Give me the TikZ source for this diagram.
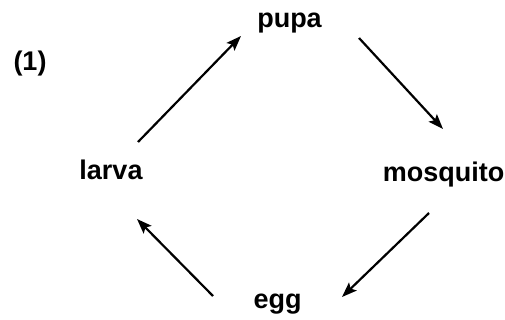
\documentclass[tikz,border=0pt]{standalone}
\usepackage{fontspec}
\setmainfont{Liberation Sans}
\usetikzlibrary{arrows.meta}
\begin{document}
\begin{tikzpicture}[x=1pt,y=-1pt,
  lbl/.style={anchor=base,inner sep=0pt,font=\fontsize{27}{32}\selectfont\bfseries},
  arr/.style={line width=2.2pt,-{Stealth[length=15pt,width=11pt,inset=3pt]}}]
\useasboundingbox (0,0) rectangle (505,320);
\node[lbl] (num) at (30,71) {(1)};
\node[lbl] (pupa) at (289.5,27.5) {pupa};
\node[lbl] (mosq) at (443.5,182) {mosquito};
\node[lbl] (egg) at (277.5,308) {egg};
\node[lbl] (larva) at (111,180) {larva};
\coordinate (a1s) at (138,142); \coordinate (a1e) at (241,36);
\coordinate (a2s) at (359,38);  \coordinate (a2e) at (443,129);
\coordinate (a3s) at (429,213); \coordinate (a3e) at (342,297);
\coordinate (a4s) at (213,296); \coordinate (a4e) at (137,219);
\draw[arr] (a1s) -- (a1e);
\draw[arr] (a2s) -- (a2e);
\draw[arr] (a3s) -- (a3e);
\draw[arr] (a4s) -- (a4e);
\end{tikzpicture}
\end{document}
